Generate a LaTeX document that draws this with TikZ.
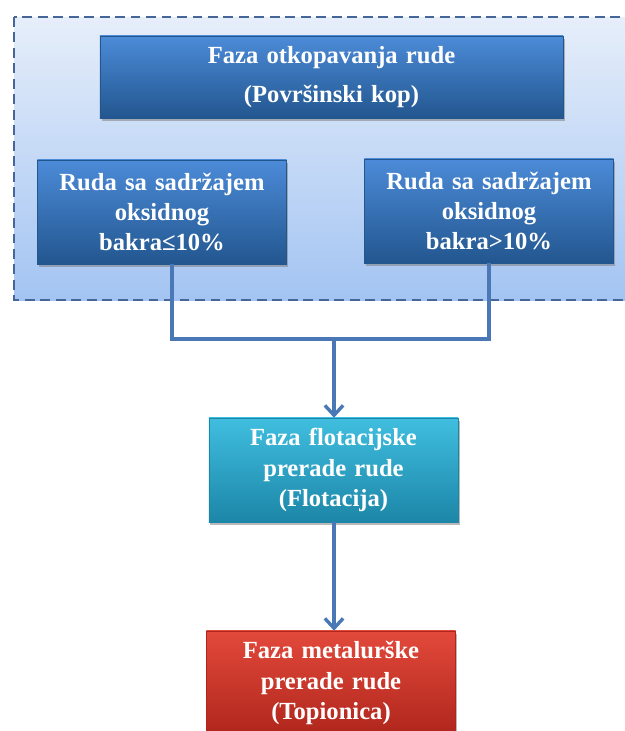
\documentclass[tikz,border=0pt]{standalone}
\usepackage{fontspec}
\setmainfont{Liberation Serif}
\usepackage{xcolor}
\usetikzlibrary{arrows.meta}
\usetikzlibrary{shadows}
\usetikzlibrary{positioning}

\definecolor{plavaGore}{HTML}{4C8BD8}
\definecolor{plavaDole}{HTML}{22568F}
\definecolor{tirkizGore}{HTML}{40BEDF}
\definecolor{tirkizDole}{HTML}{1C86A8}
\definecolor{crvenaGore}{HTML}{E2493B}
\definecolor{crvenaDole}{HTML}{B0261C}
\definecolor{okvirGore}{HTML}{E6EEFA}
\definecolor{okvirDole}{HTML}{A3C4F2}
\definecolor{okvirLinija}{HTML}{46669A}
\definecolor{veza}{HTML}{4A78B6}

\begin{document}
\begin{tikzpicture}[
  x=0.025cm, y=-0.025cm,
  faza/.style={rectangle, minimum width=6.2cm, minimum height=2.6cm,
    text width=6cm, align=center, text=white,
    font=\fontsize{17.5}{21.5}\selectfont\bfseries,
    drop shadow={opacity=0.55, shadow xshift=1.2pt, shadow yshift=-2.2pt}},
  plava/.style={faza, top color=plavaGore, bottom color=plavaDole, draw=plavaDole},
  tirkiz/.style={faza, top color=tirkizGore, bottom color=tirkizDole, draw=tirkizDole},
  crvena/.style={faza, top color=crvenaGore, bottom color=crvenaDole, draw=crvenaDole},
  linija/.style={draw=veza, line width=2.6pt},
]
\tikzset{>={Straight Barb[length=7pt, width=13pt, line width=2.4pt]}}

  \clip (0,0) rectangle (625,731);

  % Okvir
  \path[top color=okvirGore, bottom color=okvirDole, draw=okvirLinija,
    line width=1.6pt, dash pattern=on 7pt off 4pt] (14,17) rectangle (645,300);

  % Nodes
  \node[plava, minimum width=11.575cm, minimum height=2.05cm, text width=11cm]
    (kop) at (331.5,77) {Faza otkopavanja rude\\[6pt](Površinski kop)};
  \node[plava] (ruda1) at (162,212) {Ruda sa sadržajem\\oksidnog\\bakra≤10\%};
  \node[plava] (ruda2) at (489,211) {Ruda sa sadržajem\\oksidnog\\bakra>10\%};
  \node[tirkiz] (flot) at (333.5,470) {Faza flotacijske\\prerade rude\\(Flotacija)};
  \node[crvena] (topionica) at (331,683) {Faza metalurške\\prerade rude\\(Topionica)};
  \coordinate (spoj) at (334,339);

  % Edges
  \draw[linija] ([xshift=0.25cm]ruda1.south) |- (spoj);
  \draw[linija] (ruda2.south) |- (spoj);
  \draw[linija, ->] (spoj) -- (spoj |- flot.north);
  \draw[linija, ->] (flot.south -| spoj) -- (spoj |- topionica.north);

\end{tikzpicture}
\end{document}
